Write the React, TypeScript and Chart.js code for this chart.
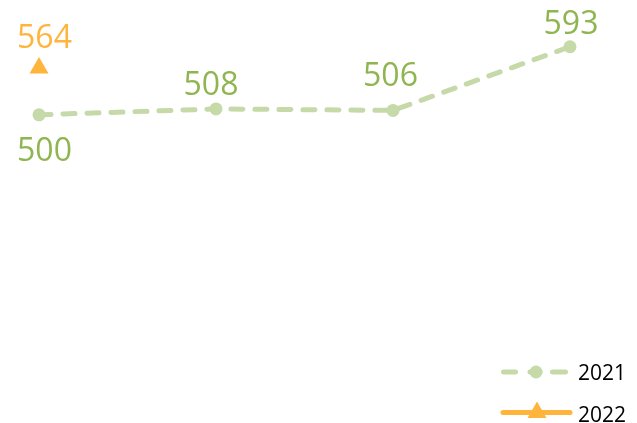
import React, { useEffect, useRef } from "react";
import { Chart, registerables } from "chart.js";

Chart.register(...registerables);

const categories = ["A", "B", "C", "D"];
const series2021 = [500, 508, 506, 593];
const series2022 = [564, null, null, null];
const seriesNames = ["2021", "2022"];

const GREEN_LINE = "#c6d9a8";
const GREEN_TEXT = "#8fb550";
const ORANGE = "#ffb53c";

// label offsets (dx, baseline dy) relative to each point
const labelOffsets2021 = [
  [5.5, 46],
  [-5, -13.5],
  [-2.5, -24],
  [1, -12.5],
];
const labelOffsets2022 = [[5.5, -20]];

const labelsPlugin = {
  id: "valueLabels",
  afterDatasetsDraw(chart: any) {
    const ctx = chart.ctx;
    ctx.save();
    ctx.font = "32px 'Open Sans'";
    ctx.textAlign = "center";
    ctx.textBaseline = "alphabetic";
    chart.data.datasets.forEach((ds: any, di: number) => {
      const meta = chart.getDatasetMeta(di);
      const offs = di === 0 ? labelOffsets2021 : labelOffsets2022;
      ctx.fillStyle = di === 0 ? GREEN_TEXT : ORANGE;
      meta.data.forEach((pt: any, i: number) => {
        const v = ds.data[i];
        if (v === null || v === undefined) return;
        const o = offs[i] || [0, -20];
        ctx.fillText(String(v), pt.x + o[0], pt.y + o[1]);
      });
    });
    ctx.restore();
  },
};

const legendPlugin = {
  id: "customLegend",
  afterDraw(chart: any) {
    const ctx = chart.ctx;
    ctx.save();
    // 2021
    const y1 = 372;
    ctx.strokeStyle = GREEN_LINE;
    ctx.lineWidth = 5;
    ctx.lineCap = "round";
    ctx.beginPath();
    ctx.moveTo(503.5, y1);
    ctx.lineTo(515.5, y1);
    ctx.moveTo(552.5, y1);
    ctx.lineTo(565.5, y1);
    ctx.moveTo(530, y1);
    ctx.lineTo(540, y1);
    ctx.stroke();
    ctx.fillStyle = GREEN_LINE;
    ctx.beginPath();
    ctx.arc(536, y1, 6.5, 0, Math.PI * 2);
    ctx.fill();
    // 2022
    const y2 = 412.5;
    ctx.strokeStyle = ORANGE;
    ctx.lineCap = "round";
    ctx.beginPath();
    ctx.moveTo(503, y2);
    ctx.lineTo(570, y2);
    ctx.stroke();
    ctx.fillStyle = ORANGE;
    ctx.beginPath();
    ctx.moveTo(537, y2 - 11);
    ctx.lineTo(546.5, y2 + 5.5);
    ctx.lineTo(527.5, y2 + 5.5);
    ctx.closePath();
    ctx.fill();
    // text
    ctx.fillStyle = "#000000";
    ctx.font = "21px 'Open Sans'";
    ctx.textAlign = "left";
    ctx.textBaseline = "alphabetic";
    ctx.fillText(seriesNames[0], 578, 379.5);
    ctx.fillText(seriesNames[1], 578, 422);
    ctx.restore();
  },
};

export default function App() {
  const ref = useRef<HTMLCanvasElement>(null);
  useEffect(() => {
    document.body.style.margin = "0";
    const chart = new Chart(ref.current as HTMLCanvasElement, {
      type: "line",
      data: {
        labels: categories,
        datasets: [
          {
            label: seriesNames[0],
            data: series2021,
            borderColor: GREEN_LINE,
            backgroundColor: GREEN_LINE,
            borderWidth: 5,
            borderDash: [12, 12],
            borderCapStyle: "round",
            pointStyle: "circle",
            pointRadius: 6.5,
            pointBorderWidth: 0,
            pointBackgroundColor: GREEN_LINE,
            tension: 0,
            clip: false,
          },
          {
            label: seriesNames[1],
            data: series2022,
            borderColor: ORANGE,
            backgroundColor: ORANGE,
            borderWidth: 5,
            pointStyle: "triangle",
            pointRadius: 11,
            pointBorderWidth: 0,
            pointBackgroundColor: ORANGE,
            clip: false,
          },
        ],
      } as any,
      options: {
        animation: false,
        responsive: false,
        maintainAspectRatio: false,
        layout: { autoPadding: false, padding: { left: 39, right: 67, top: 5, bottom: 235 } },
        plugins: { legend: { display: false }, tooltip: { enabled: false } },
        scales: {
          x: { type: "category", display: false, offset: false },
          y: { display: false, min: 400, max: 650 },
        },
      } as any,
      plugins: [labelsPlugin, legendPlugin],
    });
    return () => chart.destroy();
  }, []);
  return (
    <div style={{ width: 637, height: 423 }}>
      <canvas ref={ref} width={637} height={423} style={{ display: "block" }} />
    </div>
  );
}
